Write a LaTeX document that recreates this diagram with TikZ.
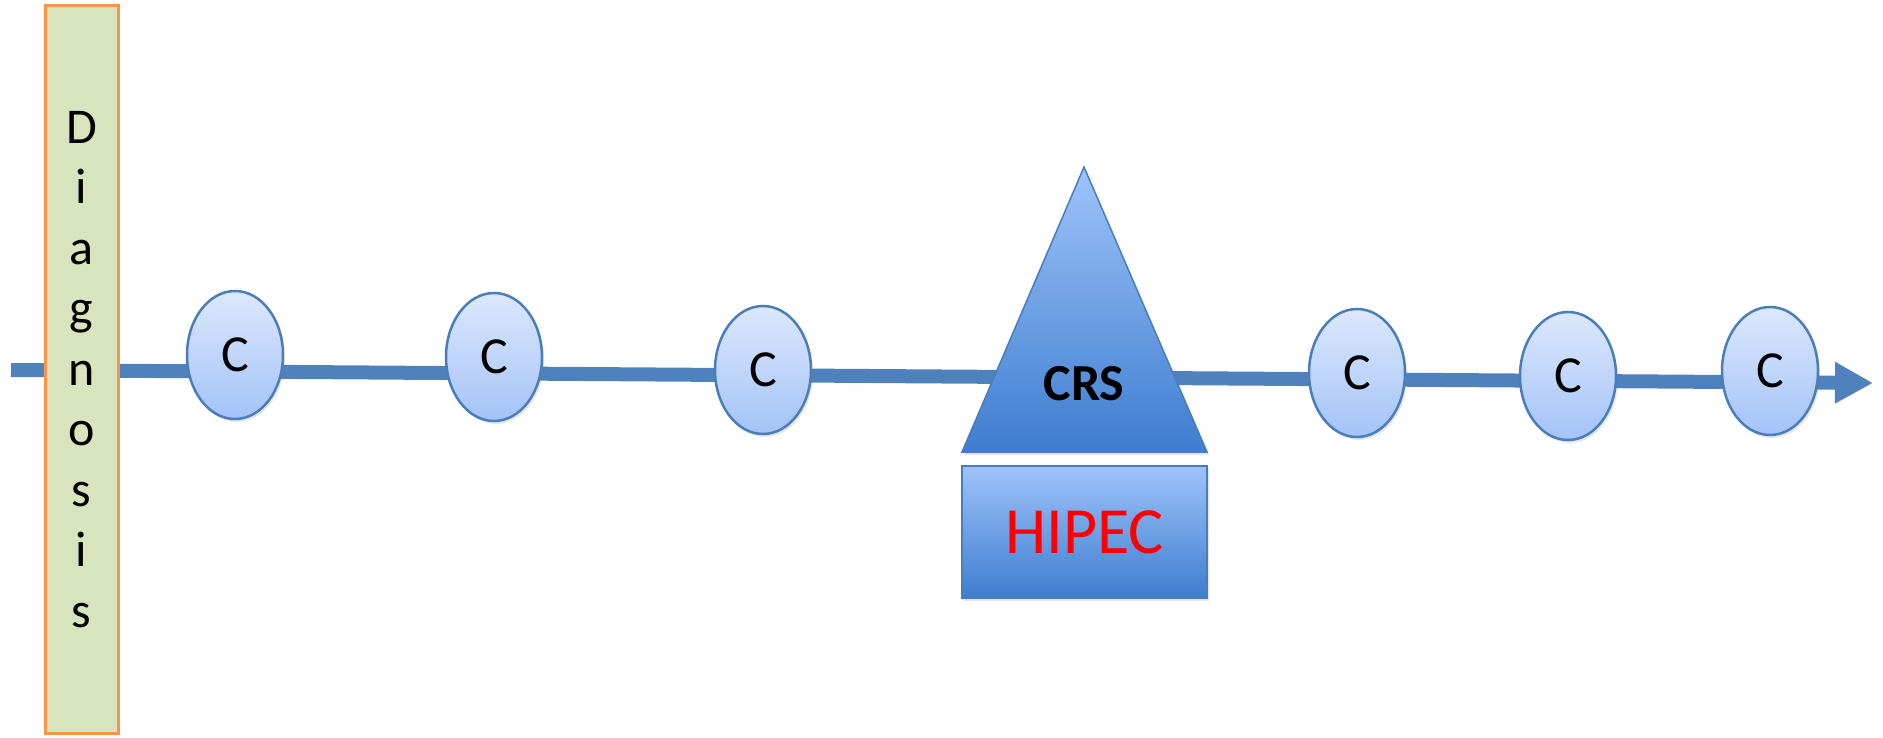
\documentclass[tikz,border=0pt]{standalone}
\usepackage{fontspec}
\setmainfont{Carlito}
\usetikzlibrary{arrows.meta,shadows,shapes.geometric}

\definecolor{lineblue}{HTML}{4F81BD}
\definecolor{edgeblue}{HTML}{4A7EBB}
\definecolor{ctop}{HTML}{DCE8FC}
\definecolor{cbot}{HTML}{A4C3F8}
\definecolor{ttop}{HTML}{9EC3FA}
\definecolor{tbot}{HTML}{3E7DCF}
\definecolor{barfill}{HTML}{D7E4BD}
\definecolor{baredge}{HTML}{F79646}
\definecolor{hipecred}{HTML}{FF0000}

\begin{document}
\begin{tikzpicture}[x=1pt,y=-1pt,
	cnode/.style={ellipse, draw=edgeblue, line width=2.5pt, top color=ctop, bottom color=cbot,
		minimum width=96pt, minimum height=128pt, inner sep=0pt,
		font=\fontsize{52}{56}\selectfont,
		drop shadow={opacity=0.2, shadow xshift=2pt, shadow yshift=-3pt}},
	diagbar/.style={rectangle, draw=baredge, line width=3pt, fill=barfill,
		minimum width=73pt, minimum height=727pt, inner sep=0pt, align=center,
		font=\fontsize{50}{60.5}\selectfont,
		drop shadow={opacity=0.15, shadow xshift=2pt, shadow yshift=-2pt}},
	hipecbox/.style={rectangle, draw=edgeblue, line width=1.5pt, top color=ttop, bottom color=tbot,
		minimum width=245pt, minimum height=132pt, inner sep=0pt,
		font=\fontsize{66}{72}\selectfont, text=hipecred,
		drop shadow={opacity=0.2, shadow xshift=2pt, shadow yshift=-3pt}}]
	\useasboundingbox (0,0) rectangle (1883,738);

	% time line
	\coordinate (tstart) at (11,370);
	\coordinate (tend) at (1873,383);
	\draw[lineblue, line width=14pt, -{Triangle[length=38pt,width=39pt]}] (tstart) -- (tend);

	% diagnosis bar
	\node[diagbar] (diag) at (81.5,369.5) {D\\i\\a\\g\\n\\o\\s\\i\\s};

	% cycles
	\foreach \name/\x/\y in {c1/235/355, c2/494/357, c3/763/370, c4/1357/373, c5/1568/376, c6/1770/371}
		\node[cnode] (\name) at (\x,\y) {C};

	% surgery
	\coordinate (apex) at (1084,167);
	\coordinate (bleft) at (962,452);
	\coordinate (bright) at (1207,452);
	\filldraw[draw=edgeblue, line width=1.5pt, top color=ttop, bottom color=tbot,
		drop shadow={opacity=0.2, shadow xshift=2pt, shadow yshift=-3pt}]
		(apex) -- (bright) -- (bleft) -- cycle;
	\node[font=\fontsize{52}{56}\selectfont\bfseries] (crs) at (1084,384) {CRS};

	\node[hipecbox] (hipec) at (1084.5,532) {HIPEC};
\end{tikzpicture}
\end{document}
